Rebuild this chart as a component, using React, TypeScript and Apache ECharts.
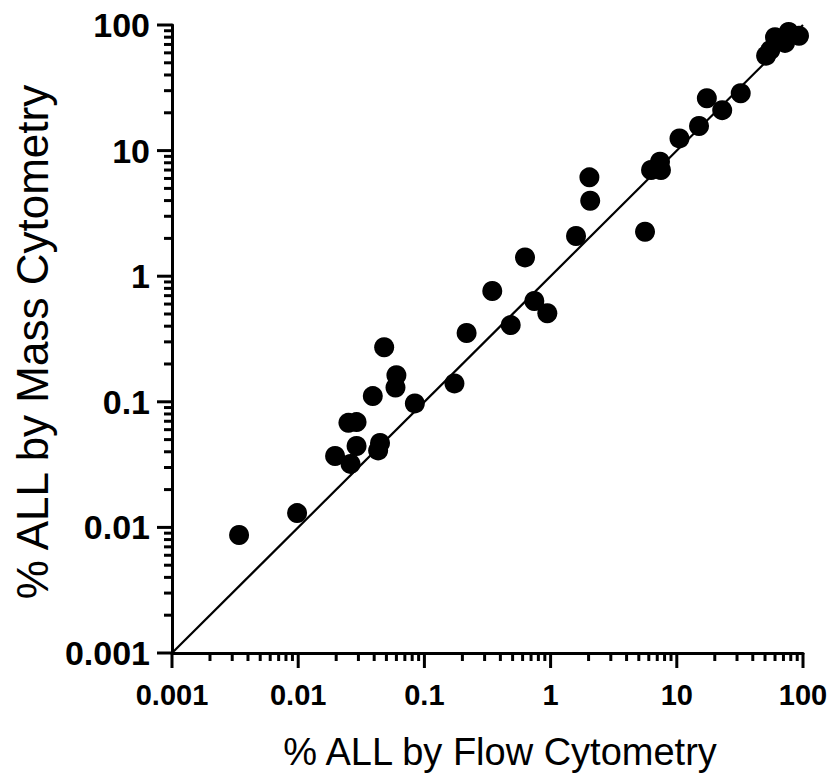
import React, { useEffect, useRef } from "react";
import * as echarts from "echarts";

// % ALL by Flow Cytometry (x) vs % ALL by Mass Cytometry (y)
const flowValues = [
  0.0034, 0.0098, 0.0196, 0.026, 0.025, 0.029, 0.029, 0.0445, 0.043, 0.039,
  0.048, 0.06, 0.059, 0.084, 0.173, 0.216, 0.345, 0.483, 0.627, 0.743, 0.942,
  1.59, 2.03, 2.06, 5.6, 6.25, 7.36, 7.49, 10.5, 15.0, 17.3, 22.9, 32.1, 51,
  55, 60, 72, 77, 93,
];
const massValues = [
  0.0087, 0.013, 0.037, 0.032, 0.068, 0.069, 0.0445, 0.047, 0.041, 0.111,
  0.272, 0.163, 0.13, 0.097, 0.14, 0.353, 0.762, 0.408, 1.41, 0.635, 0.507,
  2.09, 6.13, 3.99, 2.26, 7.01, 8.16, 7.01, 12.5, 15.7, 26.1, 21.0, 28.6, 57,
  63, 80, 72, 88, 82,
];
const identityLine = [0.001, 100];
const tickLabels = ["0.001", "0.01", "0.1", "1", "10", "100"];
const majorTicks = [0.001, 0.01, 0.1, 1, 10, 100];
const decades = [0.001, 0.01, 0.1, 1, 10];
const minorMultipliers = [2, 3, 4, 5, 6, 7, 8, 9];
const xTitle = "% ALL by Flow Cytometry";
const yTitle = "% ALL by Mass Cytometry";

const AXIS_MIN = 0.001;
const AXIS_MAX = 100;
const FONT = "'Liberation Sans', Arial, Helvetica, sans-serif";

function fmt(v: number) {
  const idx = Math.round(Math.log10(v)) + 3;
  return tickLabels[idx] ?? String(v);
}

export default function App() {
  const ref = useRef<HTMLDivElement>(null);
  useEffect(() => {
    if (!ref.current) return;
    const chart = echarts.init(ref.current, null, { renderer: "svg" });
    const minorVals: number[] = [];
    decades.forEach((d) =>
      minorMultipliers.forEach((m) => minorVals.push(+(d * m).toPrecision(6)))
    );
    const points = flowValues.map((x, i) => [x, massValues[i]]);
    const axisCommon = {
      type: "log" as const,
      logBase: 10,
      min: AXIS_MIN,
      max: AXIS_MAX,
      splitLine: { show: false },
      axisLine: { show: true, lineStyle: { color: "#000", width: 3 } },
      axisTick: { show: false },
    };
    chart.setOption({
      animation: false,
      backgroundColor: "#fff",
      grid: { left: 172, top: 25, right: 33, bottom: 126, containLabel: false },
      xAxis: {
        ...axisCommon,
        axisLabel: { formatter: fmt, margin: 27, fontFamily: FONT, fontWeight: "bold", fontSize: 29, color: "#000" },
      },
      yAxis: {
        ...axisCommon,
        axisLabel: { formatter: fmt, margin: 22, fontFamily: FONT, fontWeight: "bold", fontSize: 34, color: "#000" },
      },
      series: [
        {
          type: "line",
          data: identityLine.map((v) => [v, v]),
          symbol: "none",
          lineStyle: { color: "#000", width: 2.2 },
          z: 2,
        },
        {
          type: "scatter",
          data: points,
          symbol: "circle",
          symbolSize: 20,
          itemStyle: { color: "#000", opacity: 1 },
          z: 3,
        },
      ],
    });
    // ticks placed through the axes' own scales
    const els: any[] = [];
    const addTicks = (vals: number[], len: number) => {
      vals.forEach((v) => {
        const px = chart.convertToPixel({ gridIndex: 0 }, [v, AXIS_MIN]) as number[];
        const py = chart.convertToPixel({ gridIndex: 0 }, [AXIS_MIN, v]) as number[];
        els.push({
          type: "line",
          shape: { x1: px[0], y1: px[1], x2: px[0], y2: px[1] + len },
          style: { stroke: "#000", lineWidth: 3 },
          z: 100,
        });
        els.push({
          type: "line",
          shape: { x1: py[0], y1: py[1], x2: py[0] - len, y2: py[1] },
          style: { stroke: "#000", lineWidth: 3 },
          z: 100,
        });
      });
    };
    addTicks(minorVals, 8);
    addTicks(majorTicks, 15);
    els.push(
      { type: "text", x: 500, y: 752, style: { text: xTitle, fontFamily: FONT, fontSize: 38, fill: "#000", align: "center", verticalAlign: "middle" } },
      { type: "text", x: 32, y: 342, rotation: Math.PI / 2, style: { text: yTitle, fontFamily: FONT, fontSize: 44, fill: "#000", align: "center", verticalAlign: "middle" } }
    );
    chart.setOption({ graphic: els });
    return () => chart.dispose();
  }, []);
  return <div ref={ref} style={{ position: "absolute", left: 0, top: 0, width: 836, height: 779 }} />;
}
